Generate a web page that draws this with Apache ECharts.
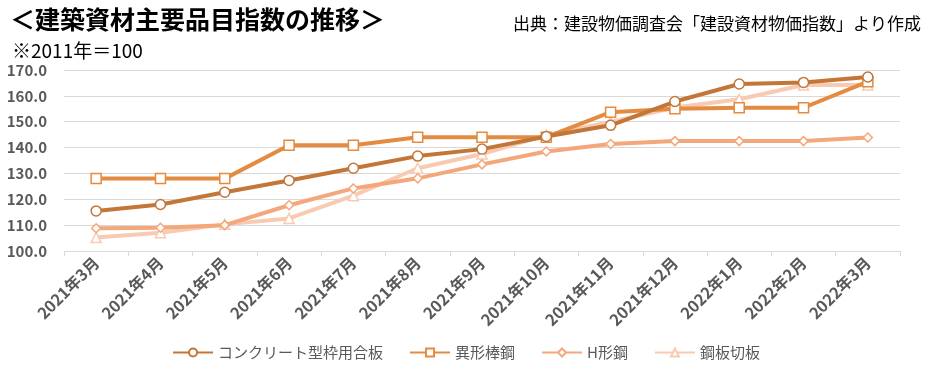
<!DOCTYPE html>
<html>
<head>
<meta charset="utf-8">
<script src="https://cdn.jsdelivr.net/npm/echarts@6/dist/echarts.min.js"></script>
<style>
html,body{margin:0;padding:0;background:#fff;}
#main{width:932px;height:370px;}
</style>
</head>
<body>
<div id="main"></div>
<script>
const categories = ['2021年3月','2021年4月','2021年5月','2021年6月','2021年7月','2021年8月','2021年9月','2021年10月','2021年11月','2021年12月','2022年1月','2022年2月','2022年3月'];
const seriesNames = ['コンクリート型枠用合板','異形棒鋼','H形鋼','鋼板切板'];
const plywood = [115.5,118.0,122.7,127.3,132.0,136.7,139.4,144.3,148.6,157.8,164.6,165.2,167.3];
const rebar   = [128.0,128.0,128.0,140.9,140.9,144.0,144.0,144.0,153.7,155.0,155.4,155.4,165.5];
const hbeam   = [108.8,109.0,110.0,117.7,124.2,128.1,133.5,138.5,141.4,142.5,142.5,142.5,143.9];
const plate   = [105.2,107.1,110.3,112.6,121.4,132.0,137.5,144.8,149.9,155.5,158.7,164.2,164.2];
const yTicks = {min:100, max:170, interval:10};

const colors = ['#C27638','#E38B40','#F4A77A','#F8CAB2'];
const symbols = ['circle','rect','diamond','triangle'];
const datasets = [plywood, rebar, hbeam, plate];

const chart = echarts.init(document.getElementById('main'), null, {renderer:'canvas'});
chart.setOption({
  animation:false,
  backgroundColor:'#fff',
  title:[
    {text:'＜建築資材主要品目指数の推移＞', left:5, top:2,
     textStyle:{fontFamily:'Noto Sans CJK JP', fontSize:25, fontWeight:'bold', color:'#000'}},
    {text:'※2011年＝100', left:7, top:36,
     textStyle:{fontFamily:'Noto Sans CJK JP', fontSize:19, fontWeight:'normal', color:'#000'}},
    {text:'出典：建設物価調査会「建設資材物価指数」より作成', right:6, top:10,
     textStyle:{fontFamily:'Noto Sans CJK JP', fontSize:17, fontWeight:'normal', color:'#000'}}
  ],
  grid:{left:64, right:32, top:70, bottom:119, containLabel:false},
  legend:{
    data:seriesNames, bottom:5, left:'center', itemWidth:40, itemHeight:10, itemGap:26,
    textStyle:{fontFamily:'Noto Sans CJK JP', fontSize:15, color:'#595959'}
  },
  xAxis:{
    type:'category', data:categories, boundaryGap:true,
    axisLine:{lineStyle:{color:'#d9d9d9', width:1}},
    axisTick:{show:true, length:5, lineStyle:{color:'#d9d9d9'}},
    axisLabel:{rotate:45, interval:0, margin:9, color:'#595959',
      fontFamily:'Noto Sans CJK JP', fontSize:16, fontWeight:'bold'}
  },
  yAxis:{
    type:'value', min:yTicks.min, max:yTicks.max, interval:yTicks.interval,
    axisLine:{show:false}, axisTick:{show:false},
    splitLine:{lineStyle:{color:'#d9d9d9', width:1}},
    axisLabel:{formatter:v=>v.toFixed(1), color:'#595959', margin:17,
      fontFamily:'Noto Sans CJK JP', fontSize:15, fontWeight:'bold'}
  },
  series: datasets.map((d,i)=>({
    name:seriesNames[i], type:'line', data:d,
    symbol:symbols[i], symbolSize: i===2?9:10,
    showAllSymbol:true,
    lineStyle:{color:colors[i], width:4},
    itemStyle:{color:'#fff', borderColor:colors[i], borderWidth:1.5},
    z: 10-i
  }))
});
</script>
</body>
</html>
